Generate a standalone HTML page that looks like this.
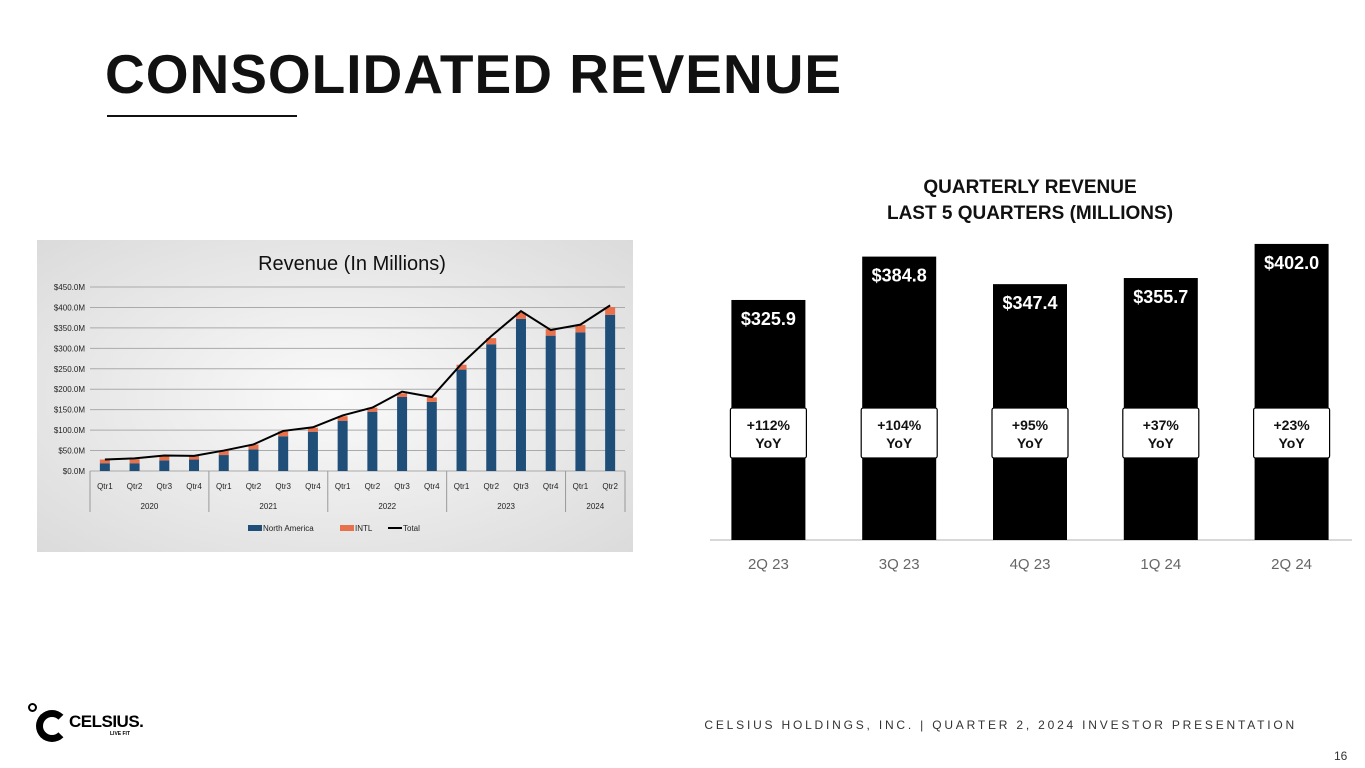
<!DOCTYPE html>
<html><head><meta charset="utf-8"><style>
body{margin:0;width:1365px;height:768px;background:#fff;overflow:hidden;position:relative;font-family:"Liberation Sans",sans-serif}
.abs{position:absolute}
</style></head><body>
<div class="abs" style="left:105px;top:42px;font-size:55px;font-weight:bold;color:#111;letter-spacing:1px">CONSOLIDATED REVENUE</div>
<div class="abs" style="left:107px;top:115px;width:190px;height:2px;background:#111"></div>
<div class="abs" style="left:800px;top:175px;width:460px;text-align:center;font-size:19px;font-weight:bold;line-height:26px;color:#111">QUARTERLY REVENUE<br>LAST 5 QUARTERS (MILLIONS)</div>

<svg class="abs" style="left:0;top:0" width="1365" height="768">
<defs><radialGradient id="bg" cx="0.5" cy="0.5" r="0.75"><stop offset="0" stop-color="#fafafa"/><stop offset="1" stop-color="#d9d9d9"/></radialGradient></defs>
<rect x="37" y="240" width="596" height="312" fill="url(#bg)"/>
<text x="352" y="270" text-anchor="middle" font-size="20" fill="#111">Revenue (In Millions)</text>
<g id="left"></g>
<g id="right"></g>
</svg>

<div class="abs" style="left:28px;top:703px;width:120px;height:40px">
<div style="position:absolute;left:0;top:0;width:5px;height:5px;border:2px solid #000;border-radius:50%"></div>
<div style="position:absolute;left:8px;top:7px;width:18px;height:18px;border:7px solid #000;border-right-color:transparent;border-radius:50%"></div>
<div style="position:absolute;left:41px;top:9px;font-size:17px;font-weight:bold;letter-spacing:-0.5px">CELSIUS.</div>
<div style="position:absolute;left:82px;top:28px;font-size:5px;font-weight:bold">LIVE FIT</div>
</div>
<div class="abs" style="right:68px;top:718px;font-size:12px;letter-spacing:2.8px;color:#333">CELSIUS HOLDINGS, INC. | QUARTER 2, 2024 INVESTOR PRESENTATION</div>
<div class="abs" style="left:1334px;top:749px;font-size:12px;color:#333">16</div>

<script>
const qtrs=["Qtr1","Qtr2","Qtr3","Qtr4","Qtr1","Qtr2","Qtr3","Qtr4","Qtr1","Qtr2","Qtr3","Qtr4","Qtr1","Qtr2","Qtr3","Qtr4","Qtr1","Qtr2"];
const years=["2020","2021","2022","2023","2024"];
const yearCounts=[4,4,4,4,2];
const naValues=[19,19,26,28,39,53,85,96,123,145,181,169,248,310,372,331,339,382];
const intlValues=[9,10,11,9,11,12,12,10,11,10,9,11,12,15,15,16,18,19];
const totalValues=[28,31,38,37,50,65,98,107,136,155,194,181,262,330,391,345,358,405];
const yTicks=[0,50,100,150,200,250,300,350,400,450];
const rCats=["2Q 23","3Q 23","4Q 23","1Q 24","2Q 24"];
const rValues=[325.9,384.8,347.4,355.7,402.0];
const rYoY=["+112%","+104%","+95%","+37%","+23%"];
const NS="http://www.w3.org/2000/svg";
function mk(p,t,a,txt){const e=document.createElementNS(NS,t);for(const k in a)e.setAttribute(k,a[k]);if(txt!=null)e.textContent=txt;p.appendChild(e);return e;}
const L=document.getElementById('left');
const x0=90,x1=625,y0=471,y1=287,bw=(x1-x0)/qtrs.length;
const ly=v=>y0-(v/450)*(y0-y1);
const lx=i=>x0+bw*(i+0.5);
yTicks.forEach(t=>{
 const g=mk(L,'line',{x1:x0,x2:x1,y1:ly(t),y2:ly(t),stroke:'#aaa','stroke-width':1});
 
 const tx=mk(L,'text',{x:x0-5,y:ly(t)+3,'text-anchor':'end','font-size':8,fill:'#222'},'$'+t.toFixed(1)+'M');
 
});
qtrs.forEach((q,i)=>{
 const b=mk(L,'rect',{x:lx(i)-5,y:ly(naValues[i]),width:10,height:y0-ly(naValues[i]),fill:'#1f4e79'});
 
 const c=mk(L,'rect',{x:lx(i)-5,y:ly(naValues[i]+intlValues[i]),width:10,height:ly(naValues[i])-ly(naValues[i]+intlValues[i]),fill:'#e8704a'});
 
 const t=mk(L,'text',{x:lx(i),y:489,'text-anchor':'middle','font-size':8,fill:'#222'},q);
 
});
const pl=mk(L,'polyline',{points:totalValues.map((v,i)=>lx(i)+','+ly(v)).join(' '),fill:'none',stroke:'#000','stroke-width':2});

let s=0;
mk(L,'line',{x1:x0,x2:x0,y1:y0,y2:512,stroke:'#999'});
years.forEach((y,k)=>{
 const a=x0+s*bw,b=x0+(s+yearCounts[k])*bw;s+=yearCounts[k];
 const sep=mk(L,'line',{x1:b,x2:b,y1:y0,y2:512,stroke:'#999'});
 
 const t=mk(L,'text',{x:(a+b)/2,y:509,'text-anchor':'middle','font-size':8,fill:'#222'},y);
 
});
const lg=mk(L,'g',{});

mk(lg,'rect',{x:248,y:525,width:14,height:6,fill:'#1f4e79'});mk(lg,'text',{x:263,y:531,'font-size':8,fill:'#222'},'North America');
mk(lg,'rect',{x:340,y:525,width:14,height:6,fill:'#e8704a'});mk(lg,'text',{x:355,y:531,'font-size':8,fill:'#222'},'INTL');
mk(lg,'line',{x1:388,x2:402,y1:528,y2:528,stroke:'#000','stroke-width':2});mk(lg,'text',{x:403,y:531,'font-size':8,fill:'#222'},'Total');

const R=document.getElementById('right');
const rb=540,rs=0.7365,rx0=703,rstep=130.8,rw=74;
const rx=i=>rx0+rstep*(i+0.5);
const ry=v=>rb-v*rs;
mk(R,'line',{x1:710,x2:1352,y1:rb,y2:rb,stroke:'#ccc','stroke-width':1.5});
rCats.forEach((c,i)=>{
 const b=mk(R,'rect',{x:rx(i)-rw/2,y:ry(rValues[i]),width:rw,height:rb-ry(rValues[i]),fill:'#000'});
 
 const v=mk(R,'text',{x:rx(i),y:ry(rValues[i])+25,'text-anchor':'middle','font-size':18,'font-weight':'bold',fill:'#fff'},'$'+rValues[i].toFixed(1));
 
 const bx=mk(R,'rect',{x:rx(i)-38,y:408,width:76,height:50,fill:'#fff',stroke:'#000','stroke-width':1.2,rx:2});
 
 const t1=mk(R,'text',{x:rx(i),y:430,'text-anchor':'middle','font-size':14,'font-weight':'bold',fill:'#111'},rYoY[i]);
 
 const t2=mk(R,'text',{x:rx(i),y:448,'text-anchor':'middle','font-size':14,'font-weight':'bold',fill:'#111'},'YoY');
 
 const xl=mk(R,'text',{x:rx(i),y:569,'text-anchor':'middle','font-size':15,fill:'#666'},c);
 
});
</script>
</body></html>
